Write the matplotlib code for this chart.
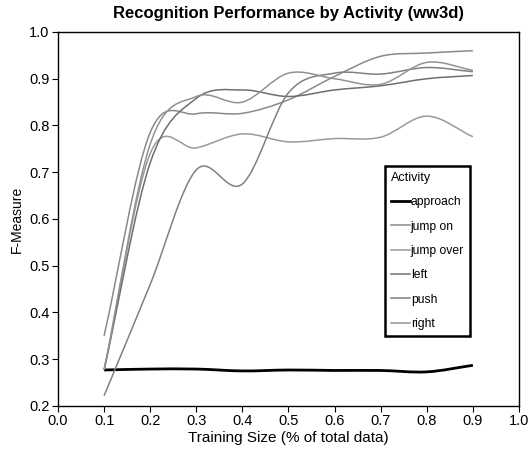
import numpy as np
import matplotlib
matplotlib.use("Agg")
import matplotlib.pyplot as plt
from matplotlib.path import Path
from matplotlib.patches import PathPatch
from matplotlib.lines import Line2D

plt.rcParams['font.family'] = ['Liberation Sans', 'DejaVu Sans']

# training size (fraction of total data)
train_size = [0.1, 0.2, 0.3, 0.4, 0.5, 0.6, 0.7, 0.8, 0.9]

approach = [0.277, 0.279, 0.279, 0.275, 0.277, 0.276, 0.276, 0.273, 0.287]
jump_on = [0.35, 0.785, 0.825, 0.826, 0.855, 0.905, 0.948, 0.955, 0.96]
jump_over = [0.277, 0.74, 0.752, 0.782, 0.765, 0.772, 0.775, 0.82, 0.776]
left = [0.277, 0.72, 0.858, 0.876, 0.862, 0.876, 0.885, 0.9, 0.907]
push = [0.222, 0.46, 0.705, 0.675, 0.87, 0.912, 0.91, 0.924, 0.915]
right = [0.277, 0.76, 0.862, 0.85, 0.912, 0.9, 0.888, 0.935, 0.918]

labels = ["approach", "jump on", "jump over", "left", "push", "right"]
series = [approach, jump_on, jump_over, left, push, right]
colors = ["black", "#8a8a8a", "#9a9a9a", "#6e6e6e", "#808080", "#929292"]
widths = [2.0, 1.1, 1.1, 1.1, 1.1, 1.1]


def smooth_path(xs, ys):
    # catmull-rom style curve through the data points, drawn as bezier segments
    pts = np.column_stack([xs, ys]).astype(float)
    tang = np.zeros_like(pts)
    tang[1:-1] = (pts[2:] - pts[:-2]) / 2
    tang[0] = pts[1] - pts[0]
    tang[-1] = pts[-1] - pts[-2]
    verts = [pts[0]]
    codes = [Path.MOVETO]
    for i in range(len(pts) - 1):
        verts += [pts[i] + tang[i] / 3, pts[i + 1] - tang[i + 1] / 3, pts[i + 1]]
        codes += [Path.CURVE4] * 3
    return Path(verts, codes)


fig = plt.figure(figsize=(5.3, 4.5), dpi=100)
ax = fig.add_axes([0.1094, 0.0978, 0.8698, 0.8311])

handles = []
for lab, ys, col, lw in zip(labels, series, colors, widths):
    patch = PathPatch(smooth_path(train_size, ys), fill=False, edgecolor=col, lw=lw)
    ax.add_patch(patch)
    handles.append(Line2D([], [], color=col, lw=lw, label=lab))

ax.set_xlim(0.0, 1.0)
ax.set_ylim(0.2, 1.0)
ax.set_xticks(np.arange(0, 11) / 10)
ax.set_yticks(np.arange(2, 11) / 10)
ax.set_xticklabels(["%.1f" % v for v in np.arange(0, 11) / 10], fontsize=10.5)
ax.set_yticklabels(["%.1f" % v for v in np.arange(2, 11) / 10], fontsize=10.5)
ax.tick_params(direction="out", length=4, width=0.8, top=False, right=False, pad=2)
for sp in ax.spines.values():
    sp.set_linewidth(1.0)

ax.set_title("Recognition Performance by Activity (ww3d)", fontsize=12, fontweight="bold", pad=10)
ax.set_xlabel("Training Size (% of total data)", fontsize=11, labelpad=2)
ax.set_ylabel("F-Measure", fontsize=10, labelpad=4)

leg = ax.legend(handles=handles, title="Activity", loc="upper left",
                bbox_to_anchor=(0.709, 0.642), borderaxespad=0, fontsize=8.7,
                title_fontsize=9, alignment="left", handlelength=1.6,
                handletextpad=0.05, labelspacing=1.02, borderpad=0.5,
                fancybox=False, framealpha=1, edgecolor="black")
leg.get_frame().set_linewidth(1.8)

fig.savefig("out.png", dpi=100)
